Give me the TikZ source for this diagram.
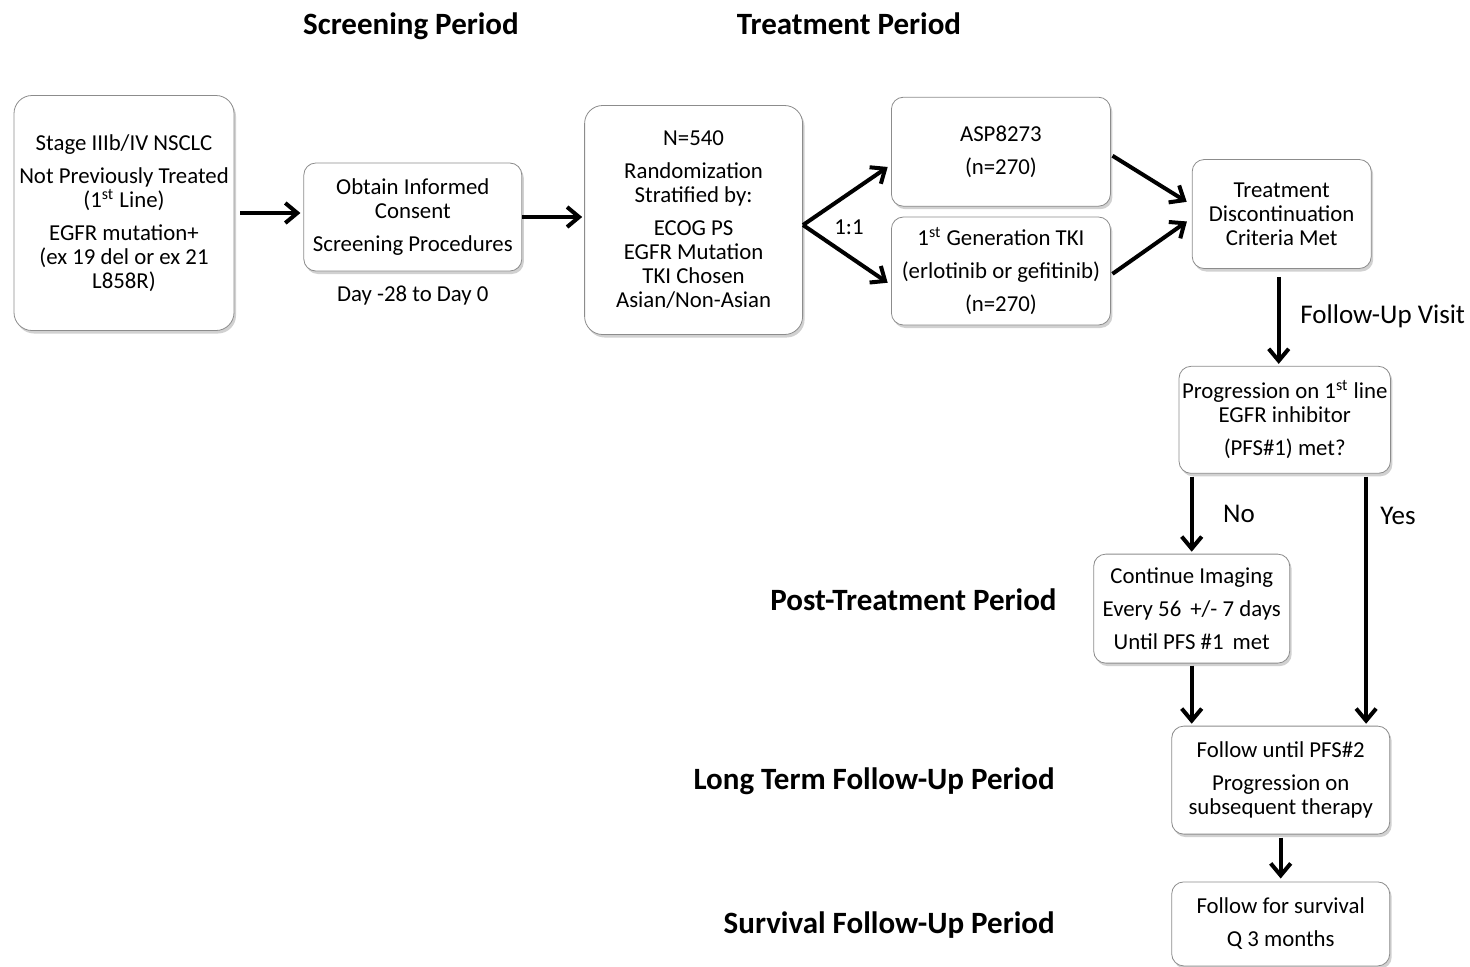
\documentclass[tikz,border=0pt]{standalone}
\usepackage{fontspec}
\setmainfont{Carlito}
\usepackage{tikz}
\usetikzlibrary{arrows.meta,positioning,calc,shadows}

\begin{document}
\begin{tikzpicture}[
    x=0.5pt, y=-0.5pt,
    box/.style={draw=black!45, rectangle, rounded corners=6pt, fill=white, align=center, inner sep=1.5pt,
        font=\fontsize{11.4}{12}\selectfont, minimum width=109pt, minimum height=54pt,
        drop shadow={shadow xshift=1pt, shadow yshift=-1.5pt, opacity=0.3, fill=black!60}},
    bigbox/.style={box, rounded corners=9pt},
    head/.style={font=\fontsize{15.5}{18}\selectfont\bfseries, inner sep=0pt, text height=11pt, text depth=3.5pt},
    lbl/.style={font=\fontsize{13.5}{16}\selectfont, inner sep=0pt},
    small/.style={font=\fontsize{11.4}{12}\selectfont, inner sep=0pt},
    arrow/.style={-{Straight Barb[length=6pt, width=10pt]}, line width=2pt}
]
    \useasboundingbox (0,0) rectangle (1470,966);

    % Period titles
    \node[head] (scrtitle) at (411,27) {Screening Period};
    \node[head] (trttitle) at (849,27) {Treatment Period};
    \node[head, anchor=east] (posttitle) at (1057,603) {Post-Treatment Period};
    \node[head, anchor=east] (lttitle) at (1055,782) {Long Term Follow-Up Period};
    \node[head, anchor=east] (survtitle) at (1055,926) {Survival Follow-Up Period};

    % Screening
    \node[bigbox, minimum width=110pt, minimum height=117.5pt] (elig) at (124,213)
        {Stage IIIb/IV NSCLC\\[4.5pt]Not Previously Treated\\(1\textsuperscript{st} Line)\\[4.5pt]EGFR mutation+\\(ex 19 del or ex 21\\L858R)};
    \node[box, right=34.5pt of elig, yshift=-2pt] (consent)
        {Obtain Informed\\Consent\\[4.5pt]Screening Procedures};
    \node[small, below=7pt of consent] (window) {Day -28 to Day 0};

    % Randomization and arms
    \node[bigbox, right=31pt of consent, yshift=-1.5pt, minimum height=114.5pt] (rand)
        {N=540\\[4.5pt]Randomization\\Stratified by:\\[4.5pt]ECOG PS\\EGFR Mutation\\TKI Chosen\\Asian/Non-Asian};
    \node[box, right=44pt of rand, yshift=-25.5pt, minimum width=109.5pt] (tki)
        {1\textsuperscript{st} Generation TKI\\[4.5pt](erlotinib or gefitinib)\\[4.5pt](n=270)};
    \node[box, above=5pt of tki, minimum width=109.5pt, minimum height=54.5pt] (asp)
        {ASP8273\\[4.5pt](n=270)};
    \node[small, right=15.5pt of rand, yshift=-3.5pt] (ratio) {1:1};

    % Discontinuation and follow-up
    \node[box, right=40.5pt of tki, yshift=28.5pt, minimum width=89.5pt, minimum height=54.5pt] (disc)
        {Treatment\\Discontinuation\\Criteria Met};
    \node[box, below=48.5pt of disc, xshift=1.5pt, minimum width=105.5pt, minimum height=53.5pt] (prog)
        {Progression on 1\textsuperscript{st} line\\EGFR inhibitor\\[4.5pt](PFS\#1) met?};
    \node[box, below=40pt of prog, xshift=-46.5pt, minimum width=98pt, minimum height=54.5pt] (cont)
        {Continue Imaging\\[4.5pt]Every 56\, +/- 7 days\\[4.5pt]Until PFS \#1\, met};
    \node[box, below=126pt of prog, xshift=-2pt] (fu2)
        {Follow until PFS\#2\\[4.5pt]Progression on\\subsequent therapy};
    \node[box, below=23.5pt of fu2, minimum height=42pt] (surv)
        {Follow for survival\\[4.5pt]Q 3 months};

    \node[lbl, anchor=west] (visit) at (1300,316) {Follow-Up Visit};
    \node[lbl] (no) at (1239,514) {No};
    \node[lbl] (yes) at (1398,516) {Yes};
    \coordinate (yesx) at ([xshift=-12pt]fu2.north east);

    % Draw Connections
    \draw[arrow, shorten <=3pt, shorten >=1.5pt] (elig.east) -- (elig.east -| consent.west);
    \draw[arrow, shorten >=1pt] (consent.east) -- (consent.east -| rand.west);

    \draw[arrow, shorten >=2pt] ([yshift=-2.5pt]rand.east) -- ([yshift=-6.5pt]asp.west);
    \draw[arrow, shorten >=2pt] ([yshift=-2.5pt]rand.east) -- ([yshift=-7pt]tki.west);

    \draw[arrow, shorten <=1pt, shorten >=3pt] ([yshift=-1.5pt]asp.east) -- ([yshift=4.5pt]disc.west);
    \draw[arrow, shorten <=1pt, shorten >=3pt] ([yshift=-2pt]tki.east) -- ([yshift=-2pt]disc.west);

    \draw[arrow, shorten <=4pt, shorten >=1pt] ([xshift=-1.5pt]disc.south) -- ([xshift=-1.5pt]disc.south |- prog.north);
    \draw[arrow, shorten <=1.5pt, shorten >=1pt] (prog.south -| cont.north) -- (cont.north);
    \draw[arrow, shorten <=1.5pt, shorten >=1pt] (prog.south -| yesx) -- (yesx);
    \draw[arrow, shorten <=1pt, shorten >=1pt] (cont.south) -- (cont.south |- fu2.north);
    \draw[arrow, shorten <=1.5pt, shorten >=1.5pt] (fu2.south) -- (surv.north);

\end{tikzpicture}
\end{document}
